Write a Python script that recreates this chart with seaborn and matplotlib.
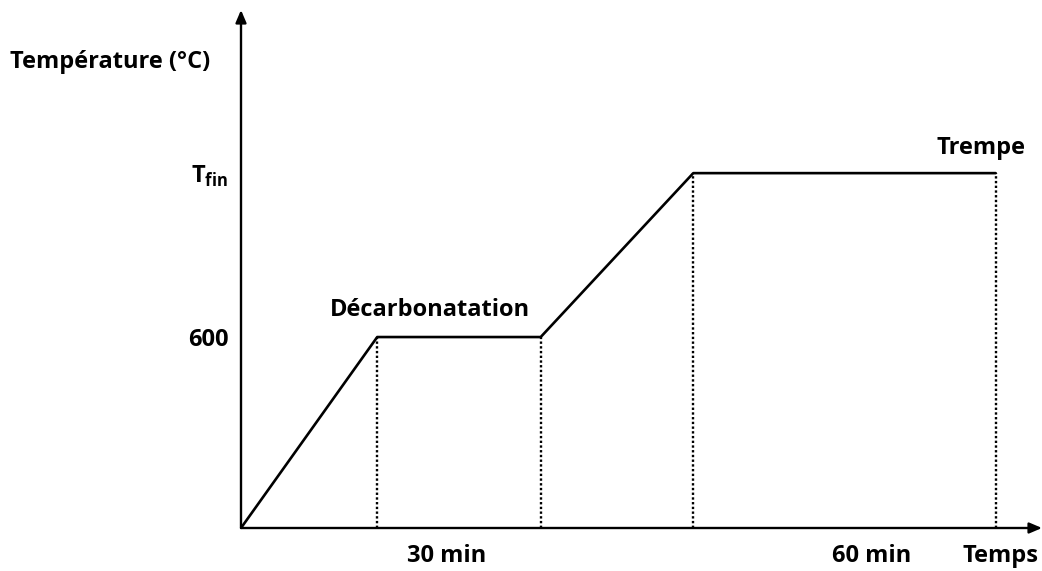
import numpy as np
import pandas as pd
import matplotlib
matplotlib.use("Agg")
import matplotlib.pyplot as plt
import seaborn as sns

# thermal cycle (time in arbitrary minutes, temperature in degC)
time = [0, 25, 55, 83, 138.5]
temp = [0, 600, 600, 1115, 1115]
plateau_labels = ["Décarbonatation", "Trempe"]
duration_labels = ["30 min", "60 min"]
ytick_vals = [600, 1115]
ytick_labels = ["600", r"T$_\mathbf{fin}$"]

sns.set_style("white")
plt.rcParams["font.family"] = ["Open Sans", "DejaVu Sans"]
plt.rcParams["font.weight"] = "bold"
plt.rcParams["text.color"] = "black"
plt.rcParams["ytick.color"] = "black"
plt.rcParams["mathtext.fontset"] = "custom"
plt.rcParams["mathtext.rm"] = "Open Sans:bold"
plt.rcParams["mathtext.bf"] = "Open Sans:bold"

fs = 17

fig = plt.figure(figsize=(10.42, 5.71), dpi=100)
ax = fig.add_axes([241 / 1042, 43 / 571, (1042 - 241) / 1042, (571 - 43) / 571])

df = pd.DataFrame({"time": time, "temp": temp})
sns.lineplot(data=df, x="time", y="temp", color="black", linewidth=1.9, ax=ax)

# dotted drop lines
for t, T in zip(time[1:], temp[1:]):
    ax.plot([t, t], [0, T], color="black", linestyle=(0, (1, 1)), linewidth=1.7)

ax.set_xlim(0, 147)
ax.set_ylim(0, 1659)
for s in ax.spines.values():
    s.set_visible(False)
ax.set_xlabel("")
ax.set_ylabel("")
ax.set_xticks([])
ax.set_yticks(ytick_vals, ytick_labels)
ax.tick_params(axis="y", length=0, pad=9, labelsize=fs)

# axes with arrows
arrow = dict(arrowstyle="-|>,head_length=0.75,head_width=0.32", color="black", lw=1.7,
             shrinkA=0, shrinkB=0)
ax.annotate("", xy=(0, 1 - 10 / 528), xycoords="axes fraction", xytext=(0, 0),
            textcoords="axes fraction", arrowprops=arrow)
ax.annotate("", xy=(1.0, 0), xycoords="axes fraction", xytext=(0, 0),
            textcoords="axes fraction", arrowprops=arrow)

# labels
ax.text(34.7, temp[1] + 85, plateau_labels[0], ha="center", va="center", fontsize=fs)
ax.text(143.9, temp[4] + 79, plateau_labels[1], ha="right", va="center", fontsize=fs)
ax.text(37.8, -88, duration_labels[0], ha="center", va="center", fontsize=fs)
ax.text(115.8, -88, duration_labels[1], ha="center", va="center", fontsize=fs)
ax.text(139.3, -88, "Temps", ha="center", va="center", fontsize=fs)
fig.text(10 / 1042, 1 - 62 / 571, "Température (°C)", ha="left", va="center", fontsize=fs)

fig.savefig("out.png", dpi=100)
